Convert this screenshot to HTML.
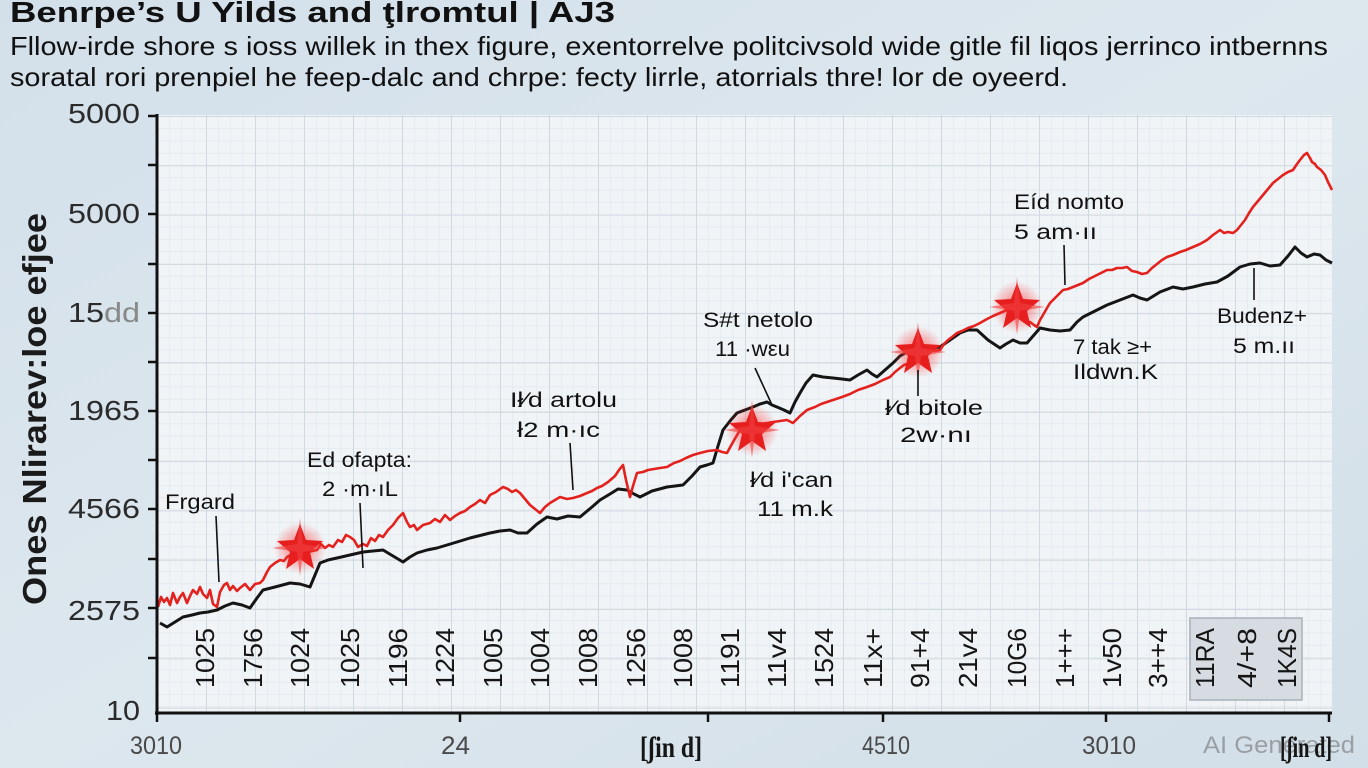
<!DOCTYPE html>
<html><head><meta charset="utf-8"><style>
html,body{margin:0;padding:0;width:1368px;height:768px;overflow:hidden;background:#d8e3eb;}
svg{display:block}
</style></head><body>
<svg width="1368" height="768" viewBox="0 0 1368 768" xmlns="http://www.w3.org/2000/svg">
<defs>
<linearGradient id="bg" x1="0" y1="0" x2="1" y2="1">
<stop offset="0" stop-color="#d3e0ea"/><stop offset="0.5" stop-color="#dde7ee"/><stop offset="1" stop-color="#d2dfe8"/>
</linearGradient>
<pattern id="minor" width="12.25" height="12.3" patternUnits="userSpaceOnUse" x="157" y="116">
<path d="M0 0V12.3M0 0H12.25" stroke="#e0e6ec" stroke-width="1.2" fill="none"/>
</pattern>
<pattern id="major" width="49" height="49.3" patternUnits="userSpaceOnUse" x="157" y="116">
<path d="M0 0V49.3M0 0H49" stroke="#d0d8e0" stroke-width="2" fill="none"/>
</pattern>
<radialGradient id="glow"><stop offset="0" stop-color="#ff3030" stop-opacity="0.7"/><stop offset="1" stop-color="#ff3030" stop-opacity="0"/></radialGradient>
</defs>
<rect width="1368" height="768" fill="url(#bg)"/>
<rect x="157" y="115" width="1175" height="598" fill="#f0f4f7"/>
<rect x="157" y="115" width="1175" height="598" fill="url(#minor)"/>
<rect x="157" y="115" width="1175" height="598" fill="url(#major)"/>

<g font-family="Liberation Sans, DejaVu Sans, sans-serif" fill="#111">
<text x="10" y="22" font-size="29" font-weight="bold" textLength="605" lengthAdjust="spacingAndGlyphs">Benrpe’s U Yilds and ţlromtul | AJ3</text>
<text x="10" y="55" font-size="26" textLength="1318" lengthAdjust="spacingAndGlyphs">Fllow-irde shore s ioss willek in thex figure, exentorrelve politcivsold wide gitle fil liqos jerrinco intbernns</text>
<text x="10" y="86" font-size="26" textLength="1058" lengthAdjust="spacingAndGlyphs">soratal rori prenpiel he feep-dalc and chrpe: fecty lirrle, atorrials thre! lor de oyeerd.</text>
</g>

<text transform="translate(46,409) rotate(-90)" text-anchor="middle" font-family="Liberation Sans, DejaVu Sans, sans-serif" font-size="33" font-weight="bold" fill="#1a1a1a" textLength="392" lengthAdjust="spacingAndGlyphs">Ones  Nlirarev:loe  efjee</text>

<g font-family="Liberation Sans, DejaVu Sans, sans-serif" font-size="28" fill="#2b2b2b" text-anchor="end">
<text x="140" y="123" textLength="72" lengthAdjust="spacingAndGlyphs">5000</text>
<text x="140" y="223" textLength="72" lengthAdjust="spacingAndGlyphs">5000</text>
<text x="140" y="322" textLength="72" lengthAdjust="spacingAndGlyphs">15<tspan fill="#888">dd</tspan></text>
<text x="140" y="420" textLength="72" lengthAdjust="spacingAndGlyphs">1965</text>
<text x="140" y="518" textLength="72" lengthAdjust="spacingAndGlyphs">4566</text>
<text x="140" y="620" textLength="72" lengthAdjust="spacingAndGlyphs">2575</text>
<text x="140" y="720" textLength="34" lengthAdjust="spacingAndGlyphs">10</text>
</g>

<rect x="1190" y="618" width="112" height="82" fill="#d6dce2" stroke="#a9b0b7" stroke-width="1.5"/>

<g font-family="Liberation Sans, DejaVu Sans, sans-serif" font-size="26" fill="#151515" text-anchor="middle">
<text transform="translate(214,658) rotate(-90)" textLength="60" lengthAdjust="spacingAndGlyphs">1025</text>
<text transform="translate(262,658) rotate(-90)" textLength="60" lengthAdjust="spacingAndGlyphs">1756</text>
<text transform="translate(309,658) rotate(-90)" textLength="60" lengthAdjust="spacingAndGlyphs">1024</text>
<text transform="translate(359,658) rotate(-90)" textLength="60" lengthAdjust="spacingAndGlyphs">1025</text>
<text transform="translate(407,658) rotate(-90)" textLength="60" lengthAdjust="spacingAndGlyphs">1196</text>
<text transform="translate(454,658) rotate(-90)" textLength="60" lengthAdjust="spacingAndGlyphs">1224</text>
<text transform="translate(502,658) rotate(-90)" textLength="60" lengthAdjust="spacingAndGlyphs">1005</text>
<text transform="translate(549,658) rotate(-90)" textLength="60" lengthAdjust="spacingAndGlyphs">1004</text>
<text transform="translate(597,658) rotate(-90)" textLength="60" lengthAdjust="spacingAndGlyphs">1008</text>
<text transform="translate(645,658) rotate(-90)" textLength="60" lengthAdjust="spacingAndGlyphs">1256</text>
<text transform="translate(692,658) rotate(-90)" textLength="60" lengthAdjust="spacingAndGlyphs">1008</text>
<text transform="translate(739,658) rotate(-90)" textLength="60" lengthAdjust="spacingAndGlyphs">1191</text>
<text transform="translate(786,658) rotate(-90)" textLength="60" lengthAdjust="spacingAndGlyphs">11v4</text>
<text transform="translate(833,658) rotate(-90)" textLength="60" lengthAdjust="spacingAndGlyphs">1524</text>
<text transform="translate(882,658) rotate(-90)" textLength="60" lengthAdjust="spacingAndGlyphs">11x+</text>
<text transform="translate(929,658) rotate(-90)" textLength="60" lengthAdjust="spacingAndGlyphs">91+4</text>
<text transform="translate(977,658) rotate(-90)" textLength="60" lengthAdjust="spacingAndGlyphs">21v4</text>
<text transform="translate(1026,658) rotate(-90)" textLength="60" lengthAdjust="spacingAndGlyphs">10G6</text>
<text transform="translate(1074,658) rotate(-90)" textLength="60" lengthAdjust="spacingAndGlyphs">1+++</text>
<text transform="translate(1121,658) rotate(-90)" textLength="60" lengthAdjust="spacingAndGlyphs">1v50</text>
<text transform="translate(1167,658) rotate(-90)" textLength="60" lengthAdjust="spacingAndGlyphs">3++4</text>
<text transform="translate(1214,658) rotate(-90)" textLength="60" lengthAdjust="spacingAndGlyphs">11RA</text>
<text transform="translate(1256,658) rotate(-90)" textLength="60" lengthAdjust="spacingAndGlyphs">4/+8</text>
<text transform="translate(1296,658) rotate(-90)" textLength="60" lengthAdjust="spacingAndGlyphs">1K4S</text>
</g>

<polyline fill="none" stroke="#151515" stroke-width="3" stroke-linejoin="round" points="160,623 167,627 175,622 183,617 192,615 200,613 208,612 217,610 225,606 233,603 242,605 250,608 257,598 263,590 275,587 290,583 300,584 310,587 315,575 320,563 328,560 337,558 350,555 363,552 373,551 383,550 393,556 403,562 410,557 417,553 427,550 437,548 447,545 457,542 470,538 482,535 490,533 500,531 510,530 518,533 527,533 537,524 547,517 557,519 568,516 580,517 592,507 600,500 610,494 618,489 627,490 634,494 640,497 652,491 667,487 675,486 683,485 692,476 700,467 707,465 713,463 718,446 723,430 730,421 737,413 745,410 753,407 760,404 767,402 772,405 777,407 784,410 790,413 795,402 800,393 806,383 813,375 823,377 833,378 842,379 850,380 858,375 867,370 872,374 877,377 885,370 893,363 900,356 907,352 918,351 928,349 940,347 950,340 960,333 968,330 977,330 988,340 1000,348 1006,344 1013,340 1020,343 1027,343 1034,335 1040,328 1050,330 1060,331 1070,330 1077,322 1083,317 1095,311 1107,305 1120,300 1133,295 1140,298 1147,300 1160,292 1173,287 1183,289 1193,287 1205,284 1217,282 1228,276 1240,267 1250,264 1260,263 1270,266 1280,265 1288,256 1295,247 1301,253 1307,257 1314,254 1320,255 1326,260 1332,263"/>
<polyline fill="none" stroke="#e3211d" stroke-width="2.6" stroke-linejoin="round" points="158,607 161,597 164,602 167,598 170,605 173,593 177,603 180,597 183,593 187,603 190,596 193,590 197,594 200,587 203,594 207,598 210,590 213,604 217,607 220,592 224,585 227,583 230,590 233,586 237,591 240,588 245,584 250,590 255,584 260,583 263,580 267,572 270,567 275,563 280,560 284,561 287,557 294,553 300,549 308,552 317,550 321,544 325,548 329,545 333,547 338,540 342,542 346,535 350,537 354,540 358,547 363,544 367,546 371,538 375,541 379,535 383,537 388,530 393,525 398,518 403,513 407,522 410,527 414,525 417,530 423,525 430,523 435,519 440,522 445,515 450,520 455,516 460,513 465,511 470,507 475,504 480,500 485,503 490,495 496,492 503,487 508,489 512,492 516,490 520,493 525,499 530,505 535,509 540,513 545,507 550,503 555,500 560,497 567,499 573,498 580,496 587,493 592,491 597,488 602,486 608,482 615,476 619,470 623,465 626,480 630,497 633,486 637,473 643,472 648,470 654,469 660,468 667,467 674,463 680,461 686,458 693,455 700,453 708,451 717,450 722,452 727,453 733,442 740,430 747,428 755,426 761,424 767,423 773,422 780,421 787,420 793,423 800,416 807,410 815,407 821,404 827,402 833,400 842,397 850,394 858,390 867,387 875,384 883,380 890,377 895,372 900,368 904,365 910,363 918,357 925,353 930,351 935,351 940,350 944,344 948,340 952,337 957,333 962,331 968,328 974,326 980,323 987,319 993,316 1000,313 1007,310 1013,315 1020,318 1025,321 1030,322 1034,325 1037,327 1040,320 1043,315 1047,308 1050,303 1054,299 1057,296 1060,293 1063,290 1068,289 1073,287 1078,285 1083,283 1089,279 1095,276 1101,273 1107,270 1112,270 1117,268 1122,268 1127,267 1132,271 1137,272 1142,274 1147,273 1152,268 1157,264 1162,260 1167,257 1173,255 1180,252 1186,250 1193,247 1200,244 1207,240 1213,235 1220,230 1224,233 1228,232 1233,233 1237,230 1241,225 1245,220 1249,213 1253,207 1258,201 1263,195 1268,189 1273,183 1278,179 1283,175 1288,172 1293,170 1297,164 1300,160 1304,155 1307,153 1310,158 1312,162 1315,164 1317,167 1321,170 1325,175 1328,182 1332,190"/>

<g>
<g transform="translate(300,548)"><circle r="26" fill="url(#glow)"/><polygon points="0,-24 6,-8 23,-7 10,4 14,21 0,11 -14,21 -10,4 -23,-7 -6,-8" fill="#e61e1e"/><polygon points="0,-30 3,-4 28,0 3,4 0,28 -3,4 -28,0 -3,-4" fill="#f04040" opacity="0.6"/></g>
<g transform="translate(752,430)"><circle r="26" fill="url(#glow)"/><polygon points="0,-24 6,-8 23,-7 10,4 14,21 0,11 -14,21 -10,4 -23,-7 -6,-8" fill="#e61e1e"/><polygon points="0,-30 3,-4 28,0 3,4 0,28 -3,4 -28,0 -3,-4" fill="#f04040" opacity="0.6"/></g>
<g transform="translate(918,352)"><circle r="26" fill="url(#glow)"/><polygon points="0,-24 6,-8 23,-7 10,4 14,21 0,11 -14,21 -10,4 -23,-7 -6,-8" fill="#e61e1e"/><polygon points="0,-30 3,-4 28,0 3,4 0,28 -3,4 -28,0 -3,-4" fill="#f04040" opacity="0.6"/></g>
<g transform="translate(1017,307)"><circle r="26" fill="url(#glow)"/><polygon points="0,-24 6,-8 23,-7 10,4 14,21 0,11 -14,21 -10,4 -23,-7 -6,-8" fill="#e61e1e"/><polygon points="0,-30 3,-4 28,0 3,4 0,28 -3,4 -28,0 -3,-4" fill="#f04040" opacity="0.6"/></g>
</g>

<g stroke="#111" stroke-width="1.6">
<line x1="216" y1="516" x2="219" y2="582"/>
<line x1="360" y1="503" x2="363" y2="568"/>
<line x1="570" y1="443" x2="573" y2="490"/>
<line x1="755" y1="368" x2="772" y2="405"/>
<line x1="918" y1="370" x2="918" y2="396"/>
<line x1="1064" y1="245" x2="1065" y2="285"/>
<line x1="1254" y1="268" x2="1254" y2="300"/>
</g>

<g font-family="Liberation Sans, DejaVu Sans, sans-serif" font-size="21" fill="#111">
<text x="165" y="509" textLength="70" lengthAdjust="spacingAndGlyphs">Frgard</text>
<text x="307" y="467" textLength="105" lengthAdjust="spacingAndGlyphs">Ed ofapta:</text>
<text x="322" y="496" textLength="76" lengthAdjust="spacingAndGlyphs">2 ·m·ıL</text>
<text x="510" y="407" textLength="107" lengthAdjust="spacingAndGlyphs">Ił⁄d artolu</text>
<text x="517" y="437" textLength="83" lengthAdjust="spacingAndGlyphs">ł2 m·ıc</text>
<text x="703" y="327" textLength="110" lengthAdjust="spacingAndGlyphs">S#t netolo</text>
<text x="715" y="356" textLength="75" lengthAdjust="spacingAndGlyphs">11 ·wεu</text>
<text x="750" y="487" textLength="83" lengthAdjust="spacingAndGlyphs">ł⁄d i'can</text>
<text x="757" y="516" textLength="76" lengthAdjust="spacingAndGlyphs">11 m.k</text>
<text x="885" y="415" textLength="98" lengthAdjust="spacingAndGlyphs">ł⁄d bitole</text>
<text x="900" y="442" textLength="72" lengthAdjust="spacingAndGlyphs">2w·nı</text>
<text x="1014" y="209" textLength="110" lengthAdjust="spacingAndGlyphs">Eíd nomto</text>
<text x="1014" y="239" textLength="83" lengthAdjust="spacingAndGlyphs">5 am·ıı</text>
<text x="1073" y="354" textLength="79" lengthAdjust="spacingAndGlyphs">7 tak ≥+</text>
<text x="1073" y="379" textLength="85" lengthAdjust="spacingAndGlyphs">Ildwn.K</text>
<text x="1217" y="323" textLength="90" lengthAdjust="spacingAndGlyphs">Budenz+</text>
<text x="1233" y="353" textLength="62" lengthAdjust="spacingAndGlyphs">5 m.ıı</text>
</g>

<g stroke="#111" stroke-width="3" fill="none">
<line x1="157" y1="114" x2="157" y2="715"/>
<line x1="155" y1="713" x2="1332" y2="713"/>
</g>
<g stroke="#111" stroke-width="2.5">
<line x1="148" y1="116" x2="157" y2="116"/>
<line x1="148" y1="165" x2="157" y2="165"/>
<line x1="148" y1="214" x2="157" y2="214"/>
<line x1="148" y1="264" x2="157" y2="264"/>
<line x1="148" y1="313" x2="157" y2="313"/>
<line x1="148" y1="362" x2="157" y2="362"/>
<line x1="148" y1="411" x2="157" y2="411"/>
<line x1="148" y1="460" x2="157" y2="460"/>
<line x1="148" y1="509" x2="157" y2="509"/>
<line x1="148" y1="559" x2="157" y2="559"/>
<line x1="148" y1="608" x2="157" y2="608"/>
<line x1="148" y1="658" x2="157" y2="658"/>
<line x1="157" y1="713" x2="157" y2="722"/>
<line x1="460" y1="713" x2="460" y2="722"/>
<line x1="708" y1="713" x2="708" y2="722"/>
<line x1="883" y1="713" x2="883" y2="722"/>
<line x1="1106" y1="713" x2="1106" y2="722"/>
<line x1="1329" y1="713" x2="1329" y2="722"/>
</g>

<g font-family="Liberation Sans, DejaVu Sans, sans-serif" font-size="25" fill="#4a4a4a">
<text x="130" y="754" textLength="52" lengthAdjust="spacingAndGlyphs">3010</text>
<text x="441" y="754" textLength="29" lengthAdjust="spacingAndGlyphs">24</text>
<text x="862" y="754" textLength="48" lengthAdjust="spacingAndGlyphs">4510</text>
<text x="1082" y="754" textLength="54" lengthAdjust="spacingAndGlyphs">3010</text>
<text x="1203" y="753" fill="#9a9fa4" font-size="24" textLength="152" lengthAdjust="spacingAndGlyphs">AI Generated</text>
</g>
<g font-family="Liberation Serif, DejaVu Serif, serif" font-size="30" font-weight="bold" fill="#151515">
<text x="640" y="757" textLength="62" lengthAdjust="spacingAndGlyphs">[ʃin d]</text>
<text x="1280" y="757" textLength="52" lengthAdjust="spacingAndGlyphs">[ʃin d]</text>
</g>
</svg>
</body></html>
